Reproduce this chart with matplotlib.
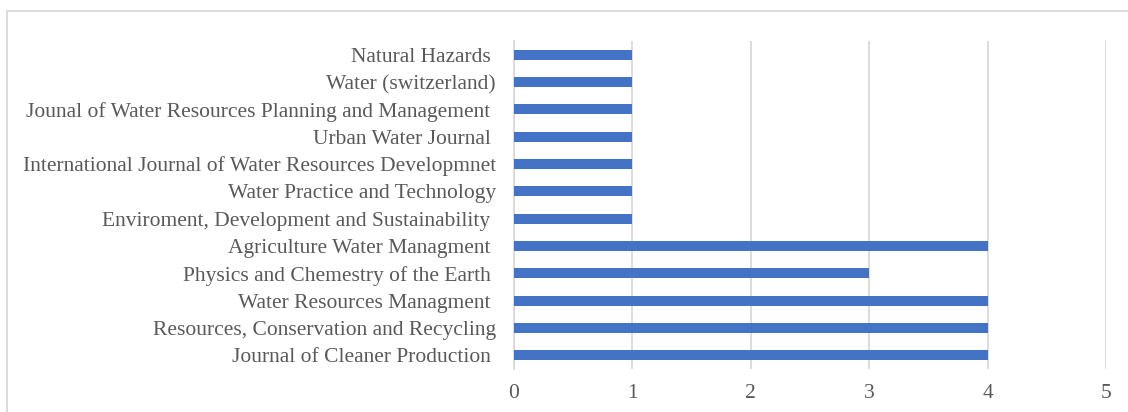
import matplotlib
matplotlib.use("Agg")
import matplotlib.pyplot as plt
from matplotlib.patches import Rectangle

categories = [
    "Natural Hazards ",
    "Water (switzerland)",
    "Jounal of Water Resources Planning and Management ",
    "Urban Water Journal ",
    "International Journal of Water Resources Developmnet",
    "Water Practice and Technology",
    "Enviroment, Development and Sustainability ",
    "Agriculture Water Managment ",
    "Physics and Chemestry of the Earth ",
    "Water Resources Managment ",
    "Resources, Conservation and Recycling",
    "Journal of Cleaner Production ",
]
values = [1, 1, 1, 1, 1, 1, 1, 4, 3, 4, 4, 4]
xticks = [0, 1, 2, 3, 4, 5]

plt.rcParams['font.family'] = ['Liberation Serif', 'DejaVu Serif']

W, H = 1128, 412
fig = plt.figure(figsize=(W / 100, H / 100), dpi=100)
ax = fig.add_axes([514 / W, 1 - 369 / H, (1106 - 514) / W, (369 - 41) / H])

ypos = list(range(len(categories)))[::-1]
ax.barh(ypos, values, height=0.37, color="#4472C4", zorder=3)
ax.set_ylim(-0.5, len(categories) - 0.5)
ax.set_xlim(0, 5)
ax.set_xticks(xticks)
ax.set_xticklabels([str(t) for t in xticks])
ax.set_yticks(ypos)
ax.set_yticklabels(categories)
ax.grid(axis="x", color="#d9d9d9", linewidth=1.3, zorder=0)
for s in ["top", "right", "bottom"]:
    ax.spines[s].set_visible(False)
ax.spines["left"].set_color("#d9d9d9")
ax.spines["left"].set_linewidth(1.3)
ax.tick_params(axis="both", length=0, labelsize=15.5, labelcolor="#595959")
ax.tick_params(axis="x", pad=11)
ax.tick_params(axis="y", pad=13)

fig.patches.append(Rectangle((7 / W, -0.1), 1.2, 1 - 11 / H + 0.1,
                             transform=fig.transFigure, fill=False,
                             edgecolor="#d9d9d9", linewidth=1.3))

fig.savefig("out.png", dpi=100)
